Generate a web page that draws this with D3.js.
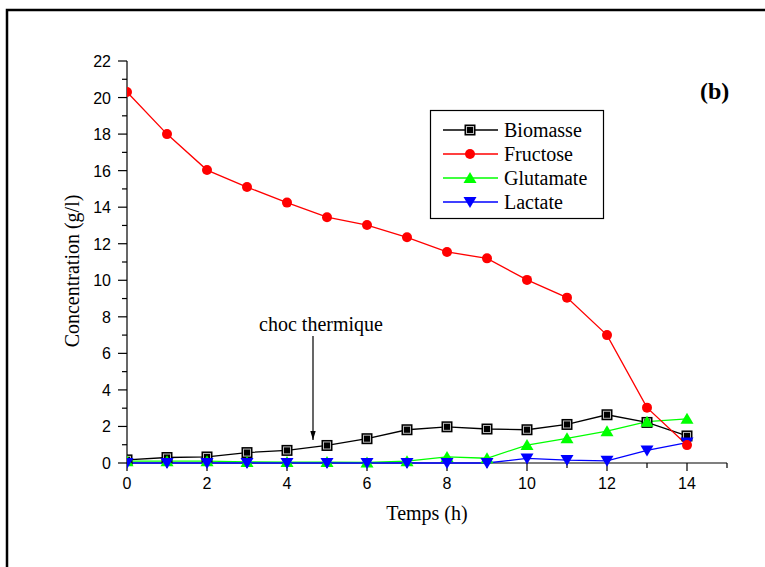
<!DOCTYPE html>
<html>
<head>
<meta charset="utf-8">
<script src="https://cdn.jsdelivr.net/npm/d3@7"></script>
<style>
  body { margin: 0; background: #fff; }
  svg { display: block; }
</style>
</head>
<body>
<div id="chart"></div>
<script>
// values
const temps = [0, 1, 2, 3, 4, 5, 6, 7, 8, 9, 10, 11, 12, 13, 14];
const biomasse = [0.17, 0.3, 0.33, 0.57, 0.69, 0.96, 1.33, 1.82, 1.98, 1.86, 1.82, 2.11, 2.64, 2.22, 1.48];
const fructose = [20.3, 18.0, 16.03, 15.1, 14.25, 13.45, 13.02, 12.35, 11.55, 11.2, 10.02, 9.05, 7.0, 3.03, 0.98];
const glutamate = [0.1, 0.1, 0.1, 0.06, 0.05, 0.05, 0.03, 0.1, 0.33, 0.26, 0.98, 1.35, 1.74, 2.26, 2.42];
const lactate = [0, 0, 0, 0, 0, 0, 0, 0, 0, 0, 0.25, 0.16, 0.12, 0.69, 1.12];
const seriesNames = ['Biomasse', 'Fructose', 'Glutamate', 'Lactate'];
const seriesColors = ['#000000', '#ff0000', '#00ff00', '#0000ff'];
const seriesMarkers = ['square', 'circle', 'triUp', 'triDown'];
const xTicks = [0, 2, 4, 6, 8, 10, 12, 14];
const yTicks = [0, 2, 4, 6, 8, 10, 12, 14, 16, 18, 20, 22];

const width = 765, height = 567;
const serif = '"Liberation Serif", "Times New Roman", serif';
const sans = '"Liberation Sans", Arial, sans-serif';

const svg = d3.select('#chart').append('svg').attr('width', width).attr('height', height);

// outer frame (only left/top visible)
svg.append('path').attr('d', 'M7,567 V10 H765').attr('fill', 'none').attr('stroke', '#000').attr('stroke-width', 2.5);

const x = d3.scaleLinear().domain([0, 15]).range([127, 727]);
const y = d3.scaleLinear().domain([0, 22]).range([463, 61]);

// axes
const xAxis = svg.append('g').attr('transform', `translate(0,${y(0)})`);
xAxis.append('line').attr('x1', x(0)).attr('x2', x(15)).attr('stroke', '#000').attr('stroke-width', 1.2);
xAxis.selectAll('.minor').data(d3.range(0, 16)).enter().append('line')
  .attr('x1', d => x(d)).attr('x2', d => x(d)).attr('y1', 0).attr('y2', d => d % 2 === 0 && d <= 14 ? 8 : 5)
  .attr('stroke', '#000').attr('stroke-width', 1.2);
xAxis.selectAll('text').data(xTicks).enter().append('text')
  .attr('x', d => x(d)).attr('y', 26).attr('text-anchor', 'middle')
  .style('font-family', sans).style('font-size', '16px').text(d => d);

const yAxis = svg.append('g').attr('transform', `translate(${x(0)},0)`);
yAxis.append('line').attr('y1', y(0)).attr('y2', y(22)).attr('stroke', '#000').attr('stroke-width', 1.2);
yAxis.selectAll('.tick').data(d3.range(0, 23)).enter().append('line')
  .attr('y1', d => y(d)).attr('y2', d => y(d)).attr('x1', 0).attr('x2', d => d % 2 === 0 ? -9 : -5)
  .attr('stroke', '#000').attr('stroke-width', 1.2);
yAxis.selectAll('text').data(yTicks).enter().append('text')
  .attr('x', -16).attr('y', d => y(d) + 6).attr('text-anchor', 'end')
  .style('font-family', sans).style('font-size', '16px').text(d => d);

svg.append('text').attr('x', 427).attr('y', 520).attr('text-anchor', 'middle')
  .style('font-family', serif).style('font-size', '20px').text('Temps (h)');
svg.append('text').attr('transform', 'translate(79,271) rotate(-90)').attr('text-anchor', 'middle')
  .style('font-family', serif).style('font-size', '20px').text('Concentration (g/l)');

svg.append('text').attr('x', 700).attr('y', 99)
  .style('font-family', serif).style('font-size', '24px').style('font-weight', 'bold').text('(b)');

// marker drawing
function marker(g, type, color) {
  if (type === 'square') {
    g.append('rect').attr('x', -5.5).attr('y', -5.5).attr('width', 11).attr('height', 11).attr('fill', '#000');
    g.append('rect').attr('x', -3.5).attr('y', -3.5).attr('width', 7).attr('height', 7)
      .attr('fill', '#000').attr('stroke', '#bbb').attr('stroke-width', 1);
  } else if (type === 'circle') {
    g.append('circle').attr('r', 5).attr('fill', color);
  } else if (type === 'triUp') {
    g.append('path').attr('d', 'M0,-6 L6.5,5 L-6.5,5 Z').attr('fill', color);
  } else {
    g.append('path').attr('d', 'M0,6 L6.5,-5 L-6.5,-5 Z').attr('fill', color);
  }
}

svg.append('defs').append('clipPath').attr('id', 'plot')
  .append('rect').attr('x', x(0)).attr('y', 0).attr('width', 700).attr('height', height);

const seriesData = [biomasse, fructose, glutamate, lactate];
const line = d3.line().x((d, i) => x(temps[i])).y(d => y(d));
const plot = svg.append('g').attr('clip-path', 'url(#plot)');
// draw in order so the later series sit on top like the original
[0, 2, 3, 1].forEach(k => {
  plot.append('path').datum(seriesData[k]).attr('d', line)
    .attr('fill', 'none').attr('stroke', seriesColors[k]).attr('stroke-width', 1.3);
});
[0, 2, 3, 1].forEach(k => {
  seriesData[k].forEach((v, i) => {
    const g = plot.append('g').attr('transform', `translate(${x(temps[i])},${y(v)})`);
    marker(g, seriesMarkers[k], seriesColors[k]);
  });
});

// legend
const legend = svg.append('g');
legend.append('rect').attr('x', 430.5).attr('y', 110.5).attr('width', 173).attr('height', 108)
  .attr('fill', '#fff').attr('stroke', '#000').attr('stroke-width', 1.2);
seriesNames.forEach((name, k) => {
  const ly = 130 + k * 24;
  legend.append('line').attr('x1', 443).attr('x2', 498).attr('y1', ly).attr('y2', ly)
    .attr('stroke', seriesColors[k]).attr('stroke-width', 1.3);
  marker(legend.append('g').attr('transform', `translate(470,${ly})`), seriesMarkers[k], seriesColors[k]);
  legend.append('text').attr('x', 504).attr('y', ly + 7)
    .style('font-family', serif).style('font-size', '20px').text(name);
});

// annotation
svg.append('defs').append('marker').attr('id', 'arrow').attr('viewBox', '0 0 10 10')
  .attr('refX', 10).attr('refY', 5).attr('markerWidth', 9).attr('markerHeight', 9)
  .attr('markerUnits', 'userSpaceOnUse').attr('orient', 'auto')
  .append('path').attr('d', 'M0,2 L10,5 L0,8 Z').attr('fill', '#000');
svg.append('line').attr('x1', 313).attr('y1', 336).attr('x2', 313).attr('y2', 440)
  .attr('stroke', '#000').attr('stroke-width', 1.2).attr('marker-end', 'url(#arrow)');
svg.append('text').attr('x', 321).attr('y', 331).attr('text-anchor', 'middle')
  .style('font-family', serif).style('font-size', '20px').text('choc thermique');
</script>
</body>
</html>
